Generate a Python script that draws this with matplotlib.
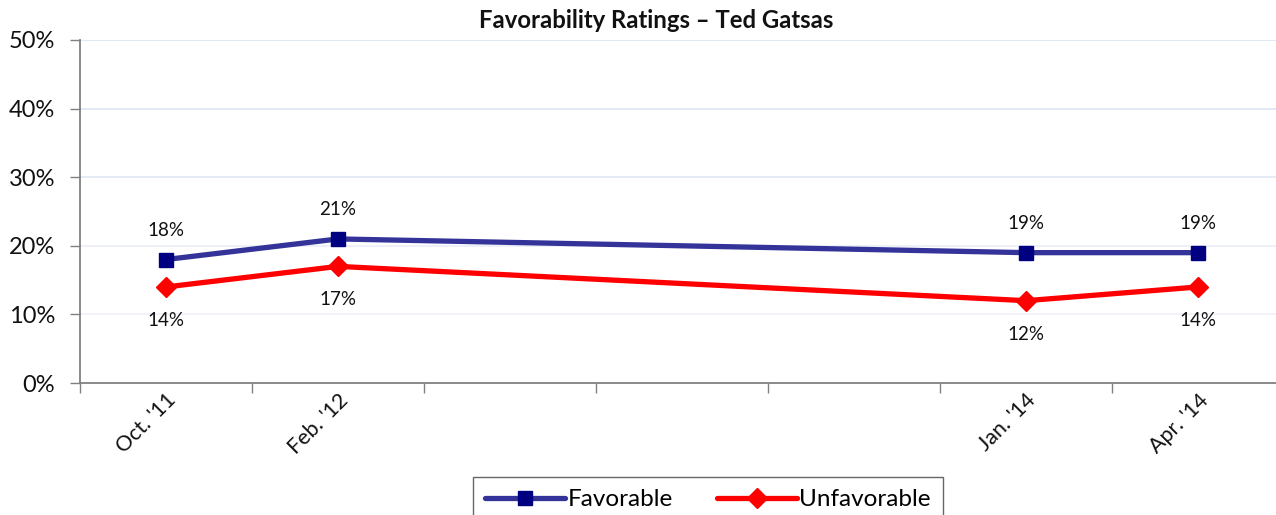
import matplotlib
matplotlib.use("Agg")
import matplotlib.pyplot as plt
from matplotlib.ticker import FixedLocator, PercentFormatter

plt.rcParams['font.family'] = ['Lato', 'DejaVu Sans']

categories = ["Oct. '11", "Feb. '12", "", "", "", "Jan. '14", "Apr. '14"]
survey_idx = [0, 1, 5, 6]
favorable = [18, 21, 19, 19]
unfavorable = [14, 17, 12, 14]
yticks = [0, 10, 20, 30, 40, 50]

W, H = 1276, 515
fig = plt.figure(figsize=(W / 100, H / 100), dpi=100)
left, right, top, bottom = 80, 1284, 40, 383
ax = fig.add_axes([left / W, (H - bottom) / H, (right - left) / W, (bottom - top) / H])

ax.set_xlim(-0.5, len(categories) - 0.5)
ax.set_ylim(0, 50)

# gridlines
grid_colors = {10: '#F0F0F8', 20: '#EBEEF6', 30: '#DFE8F3', 40: '#DCE6F2', 50: '#DCE6F2'}
for v in yticks[1:]:
    ax.axhline(v, color=grid_colors[v], lw=1.2, zorder=0)

ax.plot(survey_idx, favorable, color='#333399', lw=3.8, marker='s', markersize=9.5,
        markerfacecolor='#000080', markeredgecolor='#000080', label='Favorable', zorder=3,
        solid_capstyle='round')
ax.plot(survey_idx, unfavorable, color='#FF0000', lw=3.8, marker='D', markersize=10,
        markerfacecolor='#FF0000', markeredgecolor='#FF0000', label='Unfavorable', zorder=3,
        solid_capstyle='round')

for x, v in zip(survey_idx, favorable):
    ax.annotate(f"{v}%", (x, v), xytext=(0, 21), textcoords='offset points',
                ha='center', va='center', fontsize=13.5, color='#111111')
for x, v in zip(survey_idx, unfavorable):
    ax.annotate(f"{v}%", (x, v), xytext=(0, -24), textcoords='offset points',
                ha='center', va='center', fontsize=13.5, color='#111111')

# axes styling
for s in ['top', 'right']:
    ax.spines[s].set_visible(False)
for s in ['left', 'bottom']:
    ax.spines[s].set_color('#808080')
    ax.spines[s].set_linewidth(1.3)

ax.yaxis.set_major_locator(FixedLocator(yticks))
ax.yaxis.set_major_formatter(PercentFormatter(decimals=0))
ax.tick_params(axis='y', length=7, width=1, color='#808080', labelsize=17, pad=11,
               labelcolor='#111111')

ax.set_xticks(range(len(categories)))
ax.set_xticklabels(categories, rotation=45, ha='right', rotation_mode='anchor',
                   fontsize=15.5, color='#111111')
ax.tick_params(axis='x', which='major', length=0, pad=5)
ax.set_xticks([i - 0.5 for i in range(len(categories) + 1)], minor=True)
ax.tick_params(axis='x', which='minor', length=7, width=1, color='#808080')

fig.text(656 / W, 1 - 21 / H, "Favorability Ratings – Ted Gatsas", ha='center', va='center',
         fontsize=17.2, fontweight='bold', color='#111111')

leg = fig.legend(loc='upper center', bbox_to_anchor=(708 / W, 1 - 477 / H), ncol=2,
                 frameon=True, fancybox=False, fontsize=17.5, handlelength=3.3,
                 handletextpad=0.1, columnspacing=1.8, borderpad=0.5, borderaxespad=0)
leg.get_frame().set_edgecolor('#404040')
leg.get_frame().set_linewidth(1.0)

fig.savefig('out.png', dpi=100)
